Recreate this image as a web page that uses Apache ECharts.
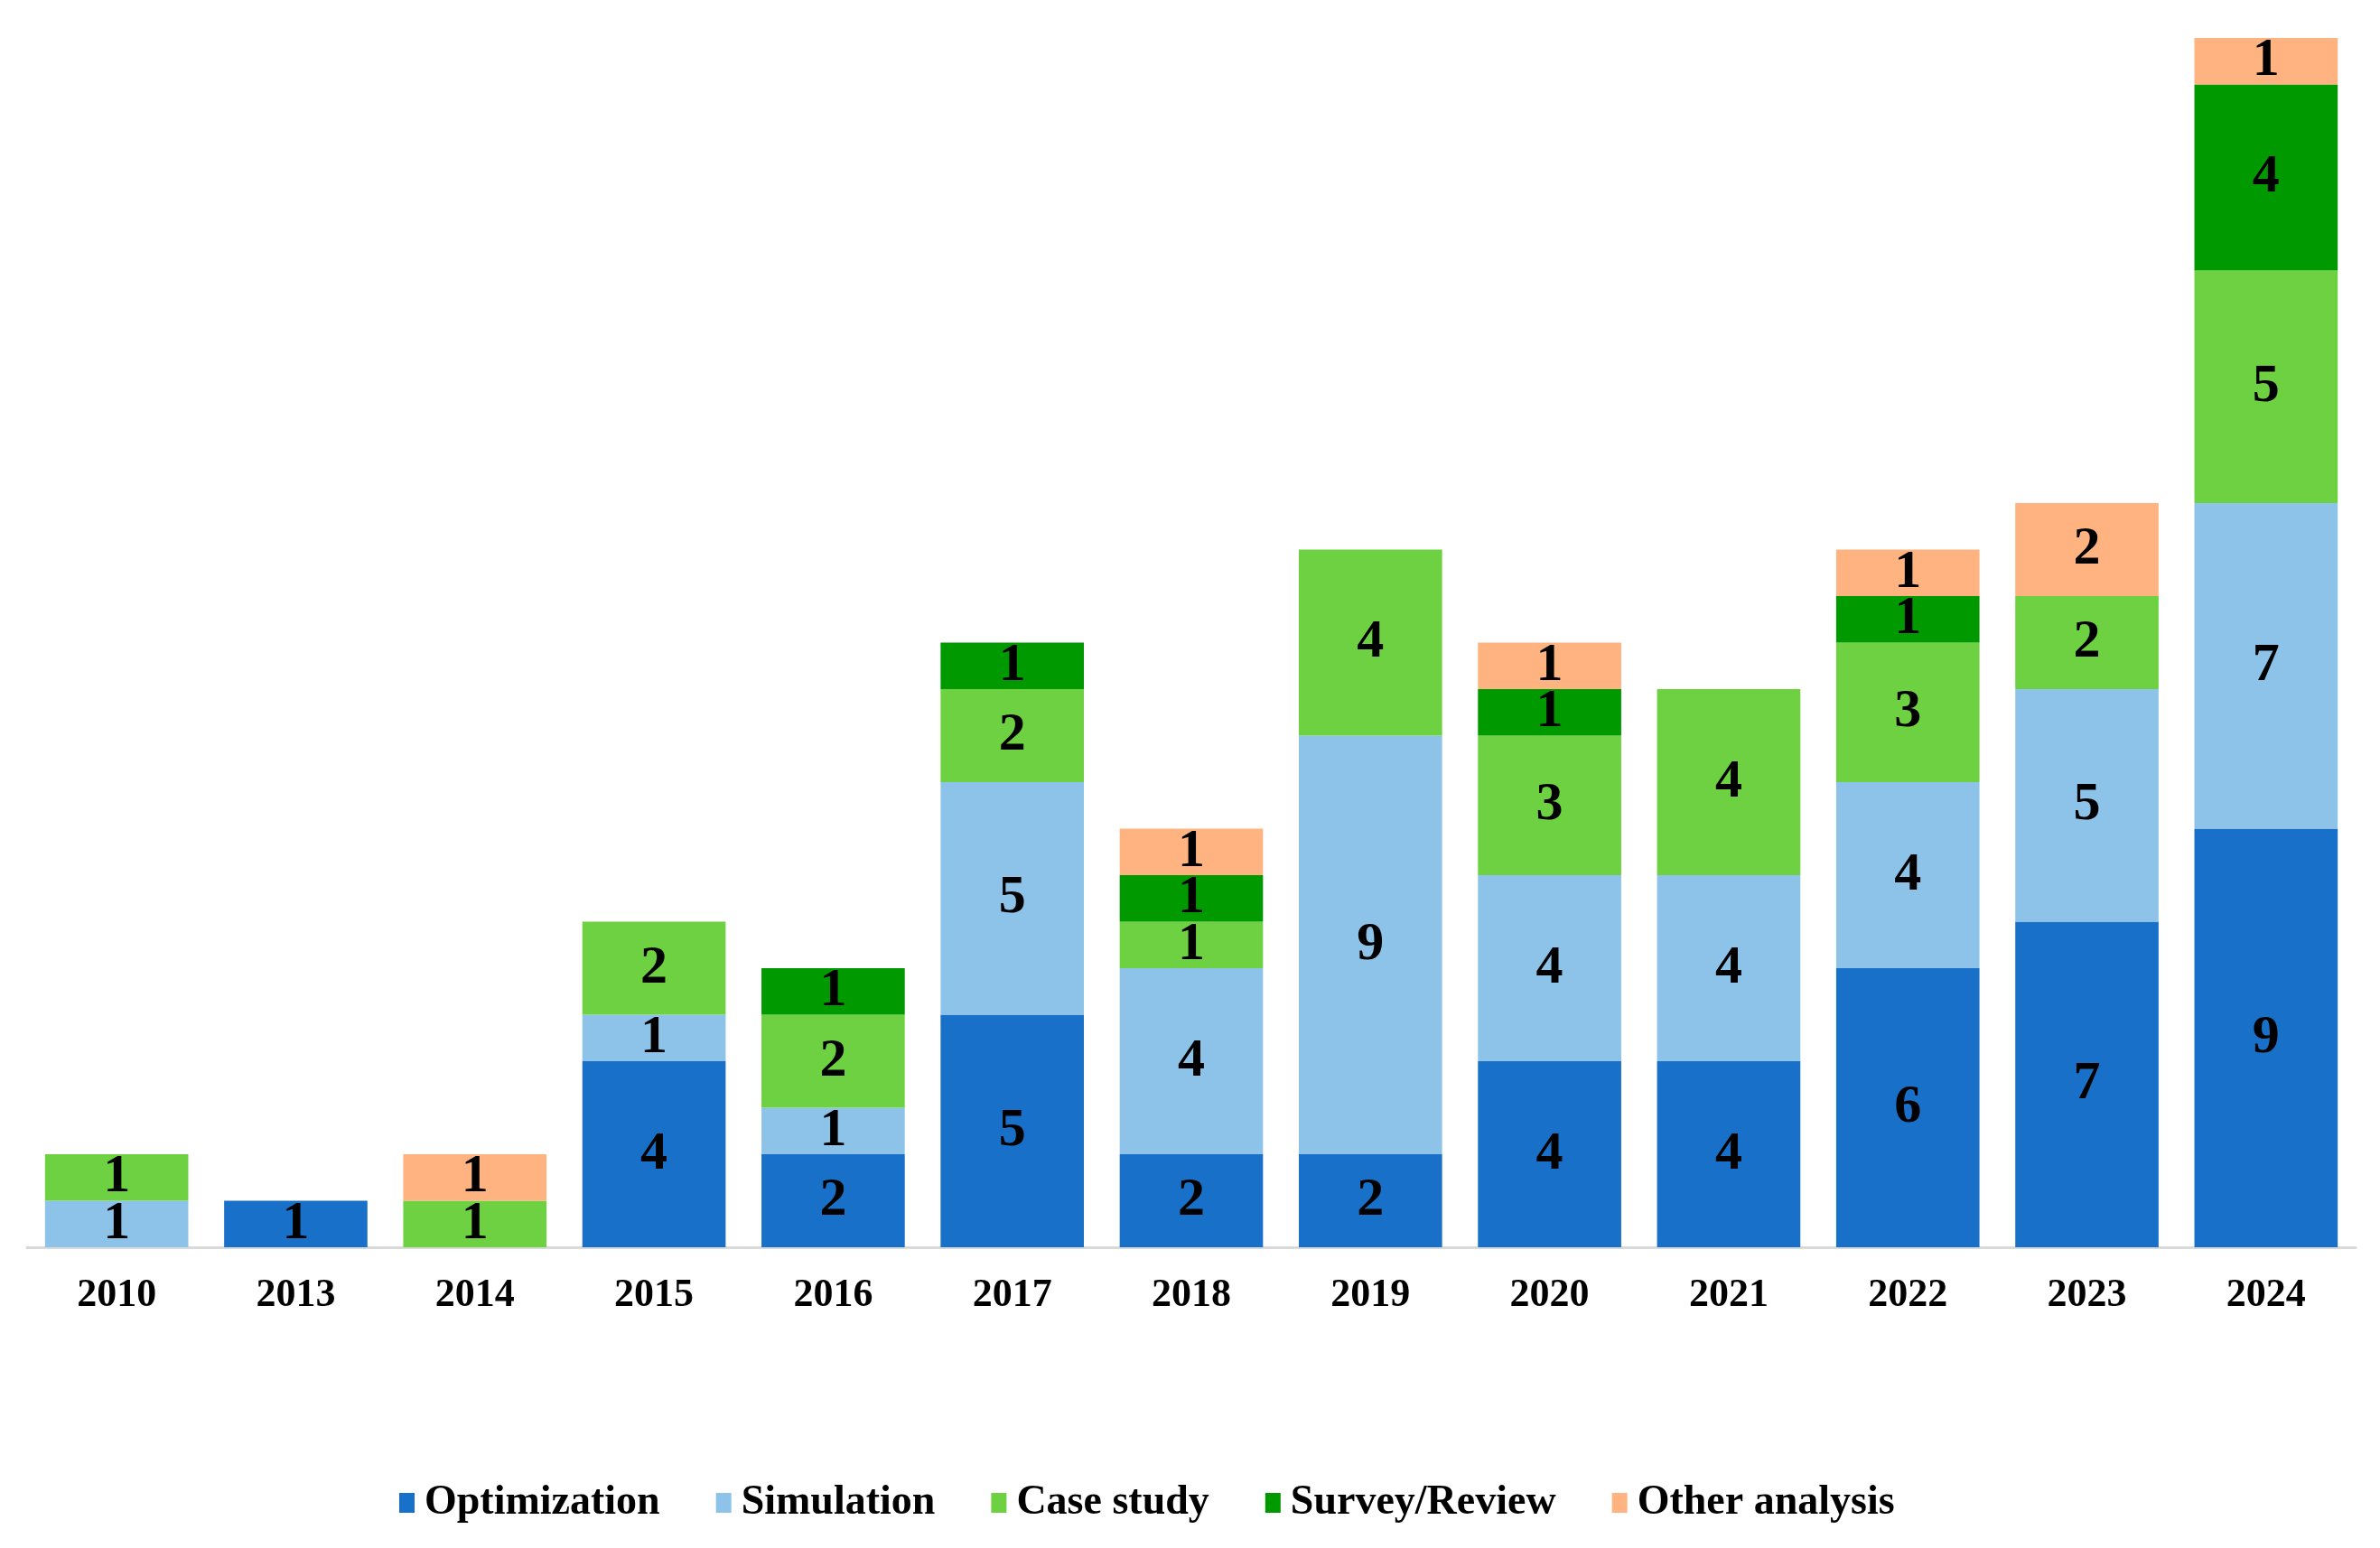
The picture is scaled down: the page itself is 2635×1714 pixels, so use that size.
<!DOCTYPE html>
<html>
<head>
<meta charset="utf-8">
<script src="https://cdn.jsdelivr.net/npm/echarts@6/dist/echarts.min.js"></script>
<style>html,body{margin:0;padding:0;background:#fff;}#c{width:2635px;height:1714px;}</style>
</head>
<body>
<div id="c"></div>
<script>
const years = ['2010','2013','2014','2015','2016','2017','2018','2019','2020','2021','2022','2023','2024'];
const optimization = [0,1,0,4,2,5,2,2,4,4,6,7,9];
const simulation   = [1,0,0,1,1,5,4,9,4,4,4,5,7];
const caseStudy    = [1,0,1,2,2,2,1,4,3,4,3,2,5];
const surveyReview = [0,0,0,0,1,1,1,0,1,0,1,0,4];
const otherAnalysis= [0,0,1,0,0,0,1,0,1,0,1,2,1];

const seriesNames = ['Optimization','Simulation','Case study','Survey/Review','Other analysis'];
const seriesData = [optimization, simulation, caseStudy, surveyReview, otherAnalysis];
const colors = ['#1870c8','#8dc3e9','#6dd141','#009a00','#ffb381'];

const font = 'Liberation Serif';
const chart = echarts.init(document.getElementById('c'));
chart.setOption({
  animation: false,
  backgroundColor: '#ffffff',
  grid: {left: 30, right: 27, top: 42, bottom: 333, containLabel: false},
  legend: {
    bottom: 22, left: 437,
    itemWidth: 17, itemHeight: 22, itemGap: 62,
    icon: 'rect',
    textStyle: {fontFamily: font, fontWeight: 'bold', fontSize: 46, color: '#000', padding: [0,0,0,6]},
    data: seriesNames
  },
  xAxis: {
    type: 'category', data: years,
    axisLine: {lineStyle: {color: '#d9d9d9', width: 3}},
    axisTick: {show: false},
    axisLabel: {fontFamily: font, fontWeight: 'bold', fontSize: 44, color: '#000', margin: 32}
  },
  yAxis: {type: 'value', min: 0, max: 26, show: false, splitLine: {show: false}},
  series: seriesNames.map((n, i) => ({
    name: n, type: 'bar', stack: 'total', barCategoryGap: '20%',
    itemStyle: {color: colors[i]},
    data: seriesData[i].map(v => v === 0 ? null : v),
    label: {show: true, position: 'inside', fontFamily: font, fontWeight: 'bold', fontSize: 60, color: '#000'}
  }))
});
</script>
</body>
</html>
